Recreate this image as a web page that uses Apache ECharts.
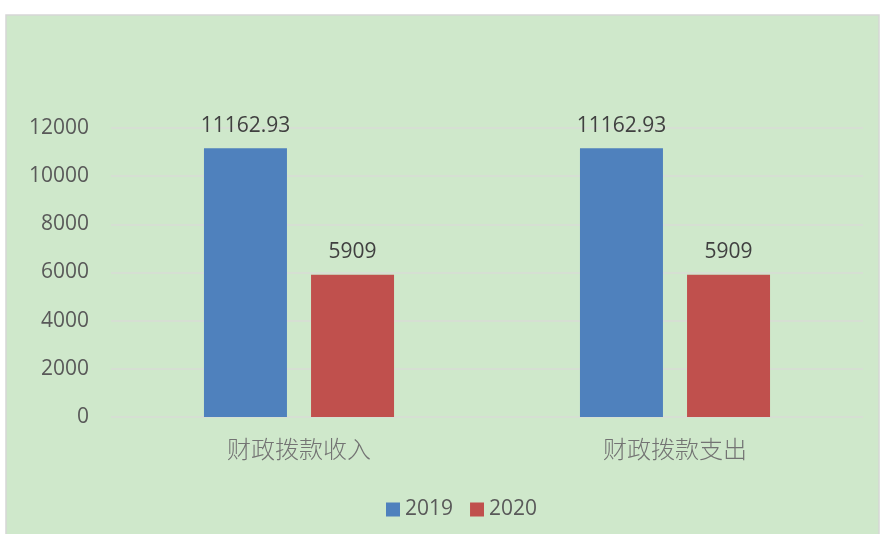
<!DOCTYPE html>
<html><head><meta charset="utf-8">
<script src="https://cdn.jsdelivr.net/npm/echarts@6/dist/echarts.min.js"></script>
<style>html,body{margin:0;padding:0;background:#fff}#c{width:880px;height:534px}</style>
</head><body><div id="c"></div>
<script>
const categories = ['财政拨款收入', '财政拨款支出'];
const seriesNames = ['2019', '2020'];
const values2019 = [11162.93, 11162.93];
const values2020 = [5909, 5909];
const yTicks = [0, 2000, 4000, 6000, 8000, 10000, 12000];

const chart = echarts.init(document.getElementById('c'));
const numFont = "'Open Sans', 'Liberation Sans', sans-serif";
chart.setOption({
  backgroundColor: '#ffffff',
  animation: false,
  graphic: [{
    type: 'rect', z: -10, silent: true,
    shape: { x: 6, y: 15, width: 873, height: 520 },
    style: { fill: '#cfe8cb', stroke: '#d6d6d6', lineWidth: 1.5 }
  }],
  grid: { left: 111, right: 17, top: 128, bottom: 117, containLabel: false },
  legend: {
    top: 494, left: 381,
    itemWidth: 14, itemHeight: 14, itemGap: 17,
    icon: 'rect',
    textStyle: { fontFamily: numFont, fontSize: 21, color: '#595959' },
    data: seriesNames
  },
  xAxis: {
    type: 'category', data: categories,
    axisLine: { show: false }, axisTick: { show: false },
    axisLabel: { fontFamily: "'Noto Sans CJK SC', sans-serif", fontWeight: 300, fontSize: 24, color: '#737373', margin: 20 }
  },
  yAxis: {
    type: 'value', min: yTicks[0], max: yTicks[yTicks.length - 1], interval: 2000,
    axisLine: { show: false }, axisTick: { show: false },
    splitLine: { lineStyle: { color: '#d9dcd6', width: 1.5 } },
    axisLabel: { fontFamily: numFont, fontSize: 21, color: '#595959', margin: 22, formatter: v => String(v) }
  },
  series: [
    { name: seriesNames[0], type: 'bar', data: values2019, barWidth: 83, barGap: '29%',
      itemStyle: { color: '#4f81bd' },
      label: { show: true, position: 'top', distance: 12, fontFamily: numFont, fontSize: 21, color: '#404040' } },
    { name: seriesNames[1], type: 'bar', data: values2020, barWidth: 83,
      itemStyle: { color: '#c0504d' },
      label: { show: true, position: 'top', distance: 12, fontFamily: numFont, fontSize: 21, color: '#404040' } }
  ]
});
</script></body></html>
